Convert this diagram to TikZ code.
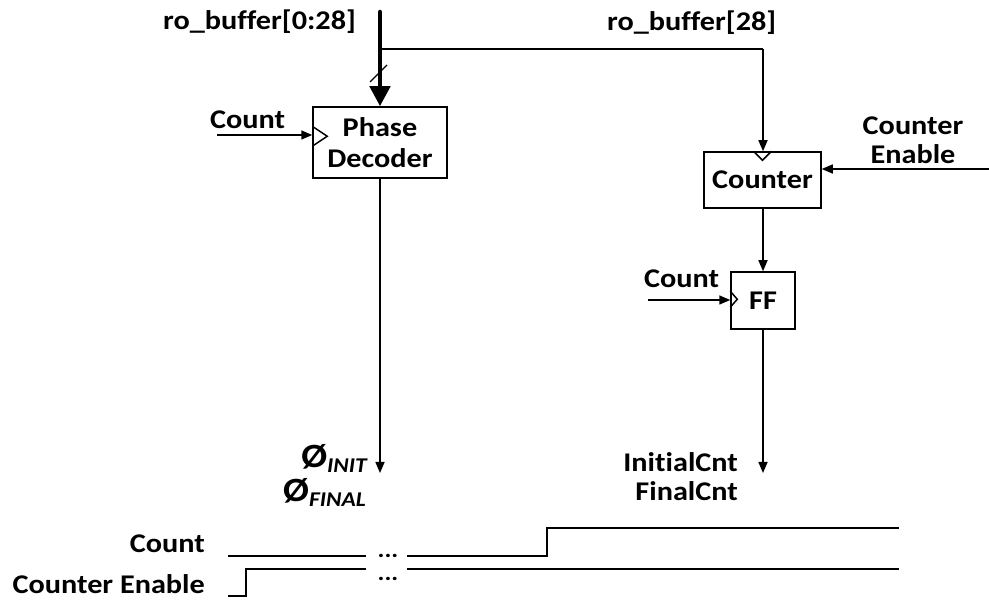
\documentclass[tikz,border=0pt]{standalone}
\usepackage{fontspec}
\setmainfont{Carlito}[FakeStretch=1.12, Ligatures={NoCommon}]
\usetikzlibrary{arrows.meta,calc}

\begin{document}
\begin{tikzpicture}[x=1pt,y=-1pt,
  lbl/.style={font=\fontsize{27}{29}\selectfont\bfseries, inner sep=0pt},
  blk/.style={draw, line width=1.5pt, inner sep=0pt, align=center,
    font=\fontsize{27}{31}\selectfont\bfseries},
  wire/.style={line width=1.5pt, -{Triangle[length=11pt,width=9pt]}},
  plainwire/.style={line width=1.5pt},
  bus/.style={line width=4.5pt, line cap=round, -{Triangle[length=20pt,width=20pt]}},
  clk/.style={line width=1.5pt, line join=miter},
  wave/.style={line width=2pt},
  dots/.style={font=\fontsize{23}{23}\selectfont\bfseries, inner sep=0pt}
]
\useasboundingbox (0,0) rectangle (989,601);

% functional blocks
\node[blk, minimum width=134pt, minimum height=71pt] (pd) at (380,142.5) {Phase\\Decoder};
\node[blk, minimum width=117pt, minimum height=56pt] (cnt) at (762.5,180) {Counter};
\node[blk, minimum width=64pt, minimum height=57pt] (ff) at (763,300.5) {FF};

% clock markers
\draw[clk] ($(pd.north west)+(0,20)$) -- ($(pd.north west)+(15,30)$) -- ($(pd.north west)+(0,40)$);
\draw[clk] ($(cnt.north)+(-9,0)$) -- ($(cnt.north)+(0,9)$) -- ($(cnt.north)+(9,0)$);
\draw[clk] ($(ff.north west)+(0,20)$) -- ($(ff.north west)+(7,28)$) -- ($(ff.north west)+(0,36)$);

% signal labels
\node[lbl, anchor=base west] (robA) at (163,30) {ro\_buffer[0:28]};
\node[lbl, anchor=base west] (robB) at (607,31) {ro\_buffer[28]};
\node[lbl, anchor=base west] (cntA) at (210,129) {Count};
\node[lbl, anchor=base west] (cntB) at (644,288) {Count};
\node[lbl, align=center] (ce) at (913,140) {Counter\\Enable};
\node[lbl, anchor=base east] (phiI) at (367,468)
  {{\fontsize{34}{34}\selectfont Ø}\raisebox{-5pt}{\fontsize{21}{21}\selectfont\itshape INIT}};
\node[lbl, anchor=base east] (phiF) at (366,502)
  {{\fontsize{34}{34}\selectfont Ø}\raisebox{-5pt}{\fontsize{21}{21}\selectfont\itshape FINAL}};
\node[lbl, align=right, anchor=east] (cntout) at (738,477) {InitialCnt\\FinalCnt};

% free wire ends
\coordinate (busTop) at (380,12);
\coordinate (tap) at (380,49);
\coordinate (tapR) at (763,49);
\coordinate (ceIn) at (989,169);
\coordinate (cntAin) at (217,135);
\coordinate (cntBin) at (648,300);
\coordinate (pdOut) at (380,473);
\coordinate (ffOut) at (763,473);

% bus and its width slash
\draw[bus] (busTop) -- (pd.north);
\draw[line width=1.2pt] (370,82) -- (387,65);

% wires
\draw[plainwire] (tap) -- (tapR);
\draw[wire] (tapR) -- (cnt.north -| tapR);
\draw[wire] (ceIn) -- (ceIn -| cnt.east);
\draw[wire] (cntAin) -- (cntAin -| pd.west);
\draw[wire] (cntBin) -- (cntBin -| ff.west);
\draw[wire] (cnt.south -| ff.north) -- (ff.north);
\draw[wire] (pd.south) -- (pdOut);
\draw[wire] (ff.south) -- (ffOut);

% timing waveforms
\node[lbl, anchor=base east] (tCount) at (205,553) {Count};
\node[lbl, anchor=base east] (tCe) at (205,594) {Counter Enable};
\draw[wave] (228,556) -- (366,556);
\draw[wave] (407,556) -- (547,556) -- (547,528) -- (899,528);
\draw[wave] (228,596) -- (246,596) -- (246,569) -- (366,569);
\draw[wave] (407,569) -- (899,569);
\node[dots, anchor=base] (d1) at (388,558) {...};
\node[dots, anchor=base] (d2) at (388,580) {...};
\end{tikzpicture}
\end{document}
